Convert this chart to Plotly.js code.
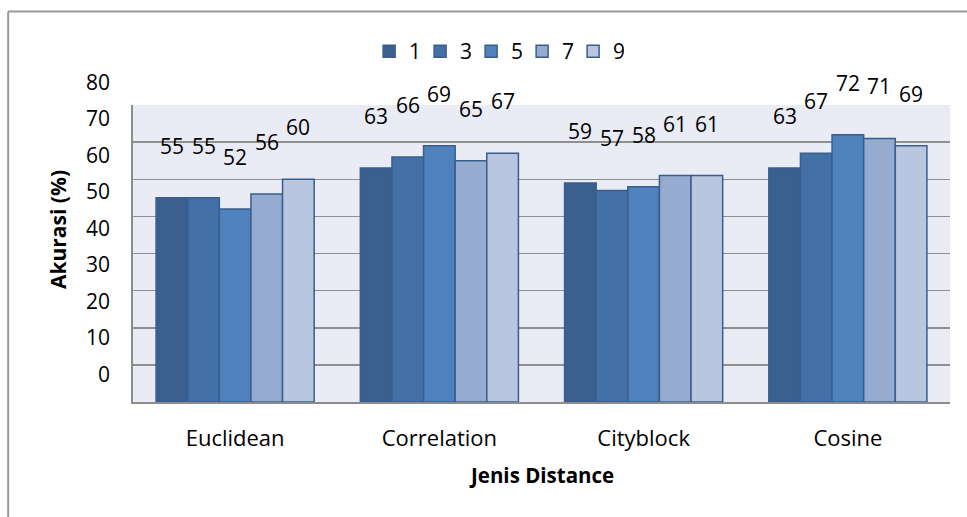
<!DOCTYPE html>
<html>
<head>
<meta charset="utf-8">
<script src="https://cdn.plot.ly/plotly-3.0.1.min.js"></script>
<style>html,body{margin:0;padding:0;background:#fff;}#chart{width:967px;height:517px;}</style>
</head>
<body>
<div id="chart"></div>
<script>
// ---- data ----
const categories = ["Euclidean", "Correlation", "Cityblock", "Cosine"];
const seriesNames = ["1", "3", "5", "7", "9"];
const values1 = [55, 63, 59, 63];
const values3 = [55, 66, 57, 67];
const values5 = [52, 69, 58, 72];
const values7 = [56, 65, 61, 71];
const values9 = [60, 67, 61, 69];
const yTickValues = [0, 10, 20, 30, 40, 50, 60, 70, 80];
const yTickLabels = ["0", "10", "20", "30", "40", "50", "60", "70", "80"];
const yTitle = "Akurasi (%)";
const xTitle = "Jenis Distance";

// ---- style ----
const seriesValues = [values1, values3, values5, values7, values9];
const colors = ["#3B5F8F", "#4470A8", "#4F81BD", "#95ABD0", "#B9C6E0"];
const FONT = "'Open Sans', 'Noto Sans', sans-serif";

const traces = seriesValues.map((vals, j) => ({
  type: "bar",
  name: seriesNames[j],
  x: categories,
  y: vals,
  marker: {color: colors[j], line: {color: "#3A5E8C", width: 1.5}},
  hoverinfo: "skip"
}));

// value labels (drawn well above bars, as in the reference)
const annotations = [];
const barFrac = (1 - 0.226) / seriesValues.length;
seriesValues.forEach((vals, j) => {
  vals.forEach((v, i) => {
    annotations.push({
      x: i + (j - (seriesValues.length - 1) / 2) * barFrac,
      y: v, xref: "x", yref: "y", yshift: 52,
      text: String(v), showarrow: false,
      xanchor: "center", yanchor: "middle",
      font: {family: FONT, size: 21, color: "#000"}
    });
  });
});
// y tick labels (offset upward as in the reference)
yTickValues.forEach((tv, k) => {
  annotations.push({
    x: -0.026, xref: "paper", y: tv, yref: "y", yshift: 28.4 - k * 0.64,
    text: yTickLabels[k], showarrow: false, xanchor: "right", yanchor: "middle",
    font: {family: FONT, size: 21, color: "#000"}
  });
});
// axis titles
annotations.push({
  x: -0.092, xref: "paper", y: 0.582, yref: "paper", text: "<b>" + yTitle + "</b>",
  textangle: -90, showarrow: false, xanchor: "center", yanchor: "middle",
  font: {family: FONT, size: 21, color: "#000"}
});
annotations.push({
  x: 0.5, xref: "paper", y: -0.247, yref: "paper", text: "<b>" + xTitle + "</b>",
  showarrow: false, xanchor: "center", yanchor: "middle",
  font: {family: FONT, size: 20.5, color: "#000"}
});

const layout = {
  width: 967, height: 517,
  margin: {l: 133, r: 17, t: 105, b: 115, pad: 0},
  paper_bgcolor: "#ffffff",
  plot_bgcolor: "#E9EBF5",
  font: {family: FONT, size: 19, color: "#000"},
  barmode: "group",
  bargap: 0.226,
  bargroupgap: 0,
  showlegend: true,
  legend: {
    orientation: "h", x: 0.289, xanchor: "left", y: 1.18, yanchor: "middle",
    entrywidth: 6, entrywidthmode: "pixels",
    font: {family: FONT, size: 21, color: "#000"},
    bgcolor: "rgba(0,0,0,0)", itemclick: false
  },
  xaxis: {
    type: "category",
    showline: true, linecolor: "#8C8C8C", linewidth: 2,
    ticks: "outside", ticklen: 16, tickcolor: "rgba(0,0,0,0)",
    tickfont: {family: FONT, size: 22, color: "#000"},
    showgrid: false, zeroline: false, fixedrange: true
  },
  yaxis: {
    range: [0, 80], dtick: 10, tick0: 0,
    showticklabels: false, ticks: "",
    showgrid: true, gridcolor: "#8F8F8F", gridwidth: 1.5,
    showline: true, linecolor: "#8C8C8C", linewidth: 2,
    zeroline: false, fixedrange: true
  },
  annotations: annotations,
  shapes: [
    {type: "line", xref: "paper", yref: "paper", x0: -0.1528, x1: 1.05, y0: 1.315, y1: 1.315,
     line: {color: "#9A9A9A", width: 2}},
    {type: "line", xref: "paper", yref: "paper", x0: -0.1528, x1: -0.1528, y0: 1.315, y1: -0.45,
     line: {color: "#9A9A9A", width: 2}}
  ]
};

Plotly.newPlot("chart", traces, layout, {displayModeBar: false, staticPlot: true});
</script>
</body>
</html>
